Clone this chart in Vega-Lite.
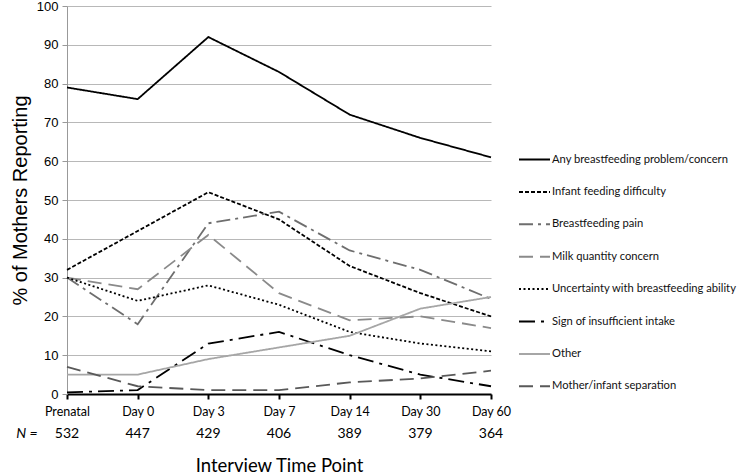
{
  "$schema": "https://vega.github.io/schema/vega-lite/v6.json",
  "autosize": {"type": "none"},
  "width": 424,
  "height": 388,
  "padding": {"left": 67, "top": 6, "right": 246, "bottom": 81},
  "background": "white",
  "config": {"view": {"stroke": null}},
  "resolve": {"scale": {"y": "independent"}, "axis": {"y": "independent"}},
  "datasets": {
    "points": [
      {"series": "Any breastfeeding problem/concern", "time": "Prenatal", "pct": 79},
      {"series": "Any breastfeeding problem/concern", "time": "Day 0", "pct": 76},
      {"series": "Any breastfeeding problem/concern", "time": "Day 3", "pct": 92},
      {"series": "Any breastfeeding problem/concern", "time": "Day 7", "pct": 83},
      {"series": "Any breastfeeding problem/concern", "time": "Day 14", "pct": 72},
      {"series": "Any breastfeeding problem/concern", "time": "Day 30", "pct": 66},
      {"series": "Any breastfeeding problem/concern", "time": "Day 60", "pct": 61},
      {"series": "Infant feeding difficulty", "time": "Prenatal", "pct": 32},
      {"series": "Infant feeding difficulty", "time": "Day 0", "pct": 42},
      {"series": "Infant feeding difficulty", "time": "Day 3", "pct": 52},
      {"series": "Infant feeding difficulty", "time": "Day 7", "pct": 45},
      {"series": "Infant feeding difficulty", "time": "Day 14", "pct": 33},
      {"series": "Infant feeding difficulty", "time": "Day 30", "pct": 26},
      {"series": "Infant feeding difficulty", "time": "Day 60", "pct": 20},
      {"series": "Breastfeeding pain", "time": "Prenatal", "pct": 30},
      {"series": "Breastfeeding pain", "time": "Day 0", "pct": 18},
      {"series": "Breastfeeding pain", "time": "Day 3", "pct": 44},
      {"series": "Breastfeeding pain", "time": "Day 7", "pct": 47},
      {"series": "Breastfeeding pain", "time": "Day 14", "pct": 37},
      {"series": "Breastfeeding pain", "time": "Day 30", "pct": 32},
      {"series": "Breastfeeding pain", "time": "Day 60", "pct": 24.5},
      {"series": "Milk quantity concern", "time": "Prenatal", "pct": 30},
      {"series": "Milk quantity concern", "time": "Day 0", "pct": 27},
      {"series": "Milk quantity concern", "time": "Day 3", "pct": 41},
      {"series": "Milk quantity concern", "time": "Day 7", "pct": 26},
      {"series": "Milk quantity concern", "time": "Day 14", "pct": 19},
      {"series": "Milk quantity concern", "time": "Day 30", "pct": 20},
      {"series": "Milk quantity concern", "time": "Day 60", "pct": 17},
      {"series": "Uncertainty with breastfeeding ability", "time": "Prenatal", "pct": 30},
      {"series": "Uncertainty with breastfeeding ability", "time": "Day 0", "pct": 24},
      {"series": "Uncertainty with breastfeeding ability", "time": "Day 3", "pct": 28},
      {"series": "Uncertainty with breastfeeding ability", "time": "Day 7", "pct": 23},
      {"series": "Uncertainty with breastfeeding ability", "time": "Day 14", "pct": 16},
      {"series": "Uncertainty with breastfeeding ability", "time": "Day 30", "pct": 13},
      {"series": "Uncertainty with breastfeeding ability", "time": "Day 60", "pct": 11},
      {"series": "Sign of insufficient intake", "time": "Prenatal", "pct": 0.4},
      {"series": "Sign of insufficient intake", "time": "Day 0", "pct": 1},
      {"series": "Sign of insufficient intake", "time": "Day 3", "pct": 13},
      {"series": "Sign of insufficient intake", "time": "Day 7", "pct": 16},
      {"series": "Sign of insufficient intake", "time": "Day 14", "pct": 10},
      {"series": "Sign of insufficient intake", "time": "Day 30", "pct": 5},
      {"series": "Sign of insufficient intake", "time": "Day 60", "pct": 2},
      {"series": "Other", "time": "Prenatal", "pct": 5},
      {"series": "Other", "time": "Day 0", "pct": 5},
      {"series": "Other", "time": "Day 3", "pct": 9},
      {"series": "Other", "time": "Day 7", "pct": 12},
      {"series": "Other", "time": "Day 14", "pct": 15},
      {"series": "Other", "time": "Day 30", "pct": 22},
      {"series": "Other", "time": "Day 60", "pct": 25},
      {"series": "Mother/infant separation", "time": "Prenatal", "pct": 7},
      {"series": "Mother/infant separation", "time": "Day 0", "pct": 2},
      {"series": "Mother/infant separation", "time": "Day 3", "pct": 1},
      {"series": "Mother/infant separation", "time": "Day 7", "pct": 1},
      {"series": "Mother/infant separation", "time": "Day 14", "pct": 3},
      {"series": "Mother/infant separation", "time": "Day 30", "pct": 4},
      {"series": "Mother/infant separation", "time": "Day 60", "pct": 6}
    ],
    "ns": [
      {"time": "Prenatal", "n": "532", "lbl": "N ="},
      {"time": "Day 0", "n": "447"},
      {"time": "Day 3", "n": "429"},
      {"time": "Day 7", "n": "406"},
      {"time": "Day 14", "n": "389"},
      {"time": "Day 30", "n": "379"},
      {"time": "Day 60", "n": "364"}
    ]
  },
  "layer": [
    {
      "data": {"name": "points"},
      "mark": {"type": "line", "strokeWidth": 1.8, "clip": false},
      "encoding": {
        "x": {
          "field": "time", "type": "ordinal",
          "scale": {"type": "point", "padding": 0, "domain": ["Prenatal", "Day 0", "Day 3", "Day 7", "Day 14", "Day 30", "Day 60"]},
          "axis": {
            "title": "Interview Time Point",
            "titleFont": "Lato", "titleFontSize": 18.5, "titleFontWeight": "normal", "titleColor": "#000",
            "titlePadding": 39,
            "labelAngle": 0, "labelFont": "Lato", "labelFontSize": 12.5, "labelColor": "#000", "labelPadding": 6,
            "domainColor": "#000", "domainWidth": 2, "tickColor": "#000", "tickWidth": 2, "tickSize": 5,
            "grid": false
          }
        },
        "y": {
          "field": "pct", "type": "quantitative",
          "scale": {"domain": [0, 100], "nice": false},
          "axis": {
            "title": "% of Mothers Reporting",
            "titleFont": "Liberation Sans", "titleFontSize": 20, "titleFontWeight": "normal", "titleColor": "#000",
            "titlePadding": 6,
            "values": [0, 10, 20, 30, 40, 50, 60, 70, 80, 90, 100],
            "labelOverlap": false,
            "labelFont": "Liberation Sans", "labelFontSize": 13, "labelColor": "#000", "labelPadding": 4,
            "domainColor": "#999", "tickColor": "#999", "tickSize": 5,
            "grid": true, "gridColor": "#b8b8b8", "gridWidth": 1
          }
        },
        "color": {
          "field": "series", "type": "nominal",
          "scale": {
            "domain": ["Any breastfeeding problem/concern", "Infant feeding difficulty", "Breastfeeding pain", "Milk quantity concern", "Uncertainty with breastfeeding ability", "Sign of insufficient intake", "Other", "Mother/infant separation"],
            "range": ["#000000", "#000000", "#6e6e6e", "#8a8a8a", "#000000", "#000000", "#a6a6a6", "#595959"]
          },
          "legend": {
            "title": null, "orient": "none", "legendX": 451, "legendY": 137,
            "symbolType": "stroke", "symbolSize": 961, "symbolStrokeWidth": 2,
            "labelFont": "Lato", "labelFontSize": 11.2, "labelColor": "#111", "labelOffset": 1,
            "rowPadding": 10.4, "labelLimit": 300
          }
        },
        "strokeDash": {
          "field": "series", "type": "nominal",
          "scale": {
            "domain": ["Any breastfeeding problem/concern", "Infant feeding difficulty", "Breastfeeding pain", "Milk quantity concern", "Uncertainty with breastfeeding ability", "Sign of insufficient intake", "Other", "Mother/infant separation"],
            "range": [[1, 0], [4, 2], [14, 5, 3, 5], [14, 7], [2, 2.5], [16, 6, 3, 6], [1, 0], [14, 7]]
          },
          "legend": {
            "title": null, "orient": "none", "legendX": 451, "legendY": 137,
            "symbolType": "stroke", "symbolSize": 961, "symbolStrokeWidth": 2,
            "labelFont": "Lato", "labelFontSize": 11.2, "labelColor": "#111", "labelOffset": 1,
            "rowPadding": 10.4, "labelLimit": 300
          }
        }
      }
    },
    {
      "data": {"name": "ns"},
      "mark": {"type": "text", "font": "Lato", "fontSize": 14, "color": "#000", "baseline": "middle"},
      "encoding": {
        "x": {"field": "time", "type": "ordinal"},
        "y": {"datum": -10.3, "scale": {"domain": [0, 100], "nice": false}, "axis": null},
        "text": {"field": "n"}
      }
    },
    {
      "data": {"name": "ns"},
      "transform": [{"filter": "datum.lbl"}],
      "mark": {"type": "text", "font": "Lato", "fontSize": 14, "fontStyle": "italic", "color": "#000", "baseline": "middle", "dx": -40},
      "encoding": {
        "x": {"field": "time", "type": "ordinal"},
        "y": {"datum": -10.3, "scale": {"domain": [0, 100], "nice": false}, "axis": null},
        "text": {"field": "lbl"}
      }
    }
  ]
}
